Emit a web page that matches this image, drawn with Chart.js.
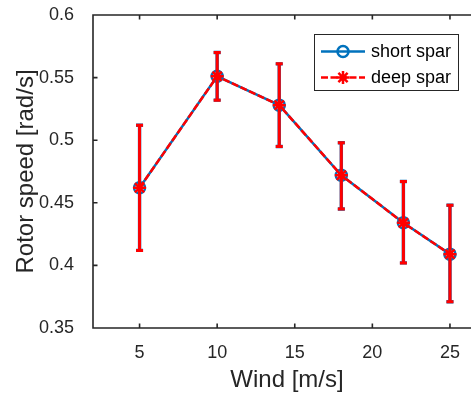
<!DOCTYPE html>
<html>
<head>
<meta charset="utf-8">
<script src="https://cdn.jsdelivr.net/npm/chart.js@4.4.1/dist/chart.umd.min.js"></script>
<style>
  html, body { margin: 0; padding: 0; background: #fff; overflow: hidden; }
  #wrap { position: relative; width: 471px; height: 396px; overflow: hidden; }
  canvas { position: absolute; left: 0; top: 0; }
</style>
</head>
<body>
<div id="wrap"><canvas id="rotorChart" width="490" height="396"></canvas></div>
<script>
// wind speed [m/s]
const wind = [5, 10, 14, 18, 22, 25];

// short spar: mean rotor speed and error bar ends
const shortSpar = [0.462, 0.551, 0.528, 0.472, 0.434, 0.409];
const shortLow  = [0.412, 0.532, 0.495, 0.445, 0.402, 0.371];
const shortHigh = [0.512, 0.570, 0.561, 0.498, 0.467, 0.448];

// deep spar (lies on top of the short spar curve)
const deepSpar = [0.462, 0.551, 0.528, 0.472, 0.434, 0.409];
const deepLow  = [0.412, 0.532, 0.495, 0.445, 0.402, 0.371];
const deepHigh = [0.512, 0.570, 0.561, 0.498, 0.467, 0.448];

const xTicks = [5, 10, 15, 20, 25];
const yTicks = [0.35, 0.4, 0.45, 0.5, 0.55, 0.6];

const AXIS = '#262626';
const BLUE = '#0072BD';
const RED = '#FF0000';
const FONT = "'Liberation Sans', Arial, Helvetica, sans-serif";

const toPoints = (xs, ys) => xs.map((x, i) => ({ x: x, y: ys[i] }));

// error bars under each dataset's line and markers
const errorBars = {
    id: 'errorBars',
    beforeDatasetDraw(chart, args) {
        const ds = chart.data.datasets[args.index];
        if (!ds.errLow) return;
        const { ctx, scales: { x, y } } = chart;
        ctx.save();
        ctx.strokeStyle = ds.borderColor;
        ctx.lineWidth = ds.errWidth;
        ctx.setLineDash([]);
        ds.data.forEach((p, i) => {
            const px = x.getPixelForValue(p.x);
            const lo = y.getPixelForValue(ds.errLow[i]);
            const hi = y.getPixelForValue(ds.errHigh[i]);
            ctx.beginPath();
            ctx.moveTo(px, lo); ctx.lineTo(px, hi);
            ctx.moveTo(px - 3.5, lo); ctx.lineTo(px + 3.5, lo);
            ctx.moveTo(px - 3.5, hi); ctx.lineTo(px + 3.5, hi);
            ctx.stroke();
        });
        ctx.restore();
    }
};

// matlab style box with inward ticks
const axesBox = {
    id: 'axesBox',
    afterDatasetsDraw(chart) {
        const { ctx, chartArea: a, scales: { x, y } } = chart;
        const t = 4.5;
        ctx.save();
        ctx.strokeStyle = AXIS;
        ctx.lineWidth = 1.6;
        ctx.beginPath();
        ctx.rect(a.left, a.top, a.right - a.left, a.bottom - a.top);
        xTicks.forEach(v => {
            const px = x.getPixelForValue(v);
            ctx.moveTo(px, a.bottom); ctx.lineTo(px, a.bottom - t);
            ctx.moveTo(px, a.top); ctx.lineTo(px, a.top + t);
        });
        yTicks.forEach(v => {
            const py = y.getPixelForValue(v);
            ctx.moveTo(a.left, py); ctx.lineTo(a.left + t, py);
            ctx.moveTo(a.right, py); ctx.lineTo(a.right - t, py);
        });
        ctx.stroke();
        ctx.restore();
    }
};

function drawMarker(ctx, style, cx, cy, r) {
    ctx.beginPath();
    if (style === 'circle') {
        ctx.arc(cx, cy, r, 0, Math.PI * 2);
    } else {
        for (let k = 0; k < 4; k++) {
            const ang = k * Math.PI / 4;
            ctx.moveTo(cx - Math.cos(ang) * r, cy - Math.sin(ang) * r);
            ctx.lineTo(cx + Math.cos(ang) * r, cy + Math.sin(ang) * r);
        }
    }
    ctx.stroke();
}

// legend box inside the axes, top right
const boxLegend = {
    id: 'boxLegend',
    afterDraw(chart) {
        const ctx = chart.ctx;
        const bx = 314, by = 34, bw = 144, bh = 56;
        ctx.save();
        ctx.fillStyle = '#fff';
        ctx.fillRect(bx, by, bw, bh);
        ctx.strokeStyle = AXIS;
        ctx.lineWidth = 1;
        ctx.strokeRect(bx + 0.5, by + 0.5, bw, bh);
        chart.data.datasets.slice().sort((a, b) => b.order - a.order).forEach((ds, i) => {
            const ly = by + 17.5 + i * 26;
            ctx.strokeStyle = ds.borderColor;
            ctx.lineWidth = ds.borderWidth;
            ctx.setLineDash(ds.borderDash || []);
            ctx.beginPath();
            ctx.moveTo(bx + 7, ly); ctx.lineTo(bx + 51, ly);
            ctx.stroke();
            ctx.setLineDash([]);
            ctx.lineWidth = ds.pointBorderWidth;
            drawMarker(ctx, ds.pointStyle, bx + 29, ly, ds.pointRadius);
            ctx.fillStyle = '#000';
            ctx.font = '18px ' + FONT;
            ctx.textBaseline = 'middle';
            ctx.fillText(ds.label, bx + 57, ly + 1);
        });
        ctx.restore();
    }
};

const noPad = s => { s.paddingTop = 0; s.paddingBottom = 0; s.paddingLeft = 0; s.paddingRight = 0; };

new Chart(document.getElementById('rotorChart'), {
    type: 'line',
    data: {
        datasets: [
            {
                label: 'short spar',
                data: toPoints(wind, shortSpar),
                errLow: shortLow,
                errHigh: shortHigh,
                errWidth: 3.4,
                borderColor: BLUE,
                borderWidth: 2.5,
                pointStyle: 'circle',
                pointRadius: 5.5,
                pointBorderWidth: 2.5,
                pointBorderColor: BLUE,
                pointBackgroundColor: 'rgba(0,0,0,0)',
                tension: 0,
                order: 2
            },
            {
                label: 'deep spar',
                data: toPoints(wind, deepSpar),
                errLow: deepLow,
                errHigh: deepHigh,
                errWidth: 3,
                borderColor: RED,
                borderWidth: 2.5,
                borderDash: [7, 2.5],
                pointStyle: 'star',
                pointRadius: 6.5,
                pointBorderWidth: 2.5,
                pointBorderColor: RED,
                pointBackgroundColor: RED,
                tension: 0,
                order: 1
            }
        ]
    },
    options: {
        responsive: false,
        animation: false,
        layout: { padding: { top: 15, right: 3.8, left: 0, bottom: 0 } },
        plugins: {
            legend: { display: false },
            tooltip: { enabled: false }
        },
        scales: {
            x: {
                type: 'linear',
                min: 2,
                max: 27,
                grid: { display: false },
                border: { display: false },
                afterBuildTicks: s => { s.ticks = xTicks.map(v => ({ value: v })); },
                afterFit: s => { s.height = 68; noPad(s); },
                ticks: {
                    color: AXIS,
                    padding: 6,
                    maxRotation: 0,
                    font: { family: FONT, size: 18 }
                },
                title: {
                    display: true,
                    text: 'Wind [m/s]',
                    color: AXIS,
                    padding: { top: 0, bottom: 1 },
                    font: { family: FONT, size: 24 }
                }
            },
            y: {
                min: 0.35,
                max: 0.6,
                grid: { display: false },
                border: { display: false },
                afterBuildTicks: s => { s.ticks = yTicks.map(v => ({ value: v })); },
                afterFit: s => { s.width = 93; noPad(s); },
                ticks: {
                    color: AXIS,
                    padding: 11,
                    callback: v => String(v),
                    font: { family: FONT, size: 18 }
                },
                title: {
                    display: true,
                    text: 'Rotor speed [rad/s]',
                    color: AXIS,
                    padding: { top: 12, bottom: 0 },
                    font: { family: FONT, size: 24 }
                }
            }
        }
    },
    plugins: [errorBars, axesBox, boxLegend]
});
</script>
</body>
</html>
